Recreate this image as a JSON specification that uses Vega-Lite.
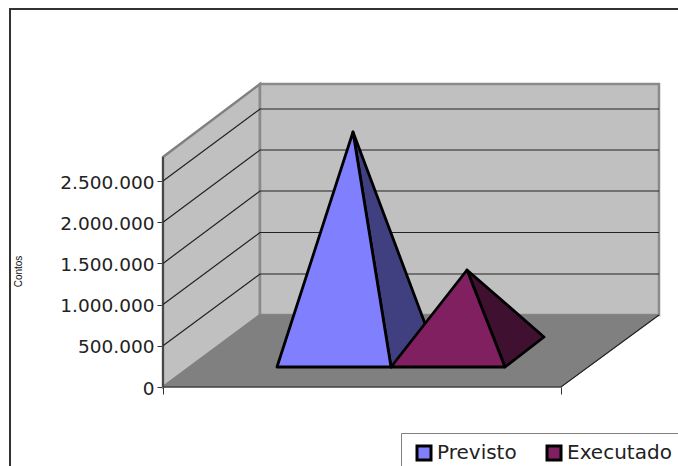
{
  "$schema": "https://vega.github.io/schema/vega-lite/v6.json",
  "width": 678,
  "height": 466,
  "padding": 0,
  "autosize": {"type": "none"},
  "background": "white",
  "view": {"stroke": null},
  "config": {"font": "DejaVu Sans"},
  "data": {
    "values": [
      {"tipo": "moldura", "forma": "moldura", "ordem": 1, "posicao": -38.44, "contos": -958744},
      {"tipo": "moldura", "forma": "moldura", "ordem": 2, "posicao": -38.44, "contos": 4587408},
      {"tipo": "moldura", "forma": "moldura", "ordem": 3, "posicao": 129.4, "contos": 4587408},

      {"tipo": "paredeEsq", "forma": "paredeEsq", "ordem": 1, "posicao": 0, "contos": 2791280},
      {"tipo": "paredeEsq", "forma": "paredeEsq", "ordem": 2, "posicao": 24.37, "contos": 3677208},
      {"tipo": "paredeEsq", "forma": "paredeEsq", "ordem": 3, "posicao": 24.37, "contos": 873792},
      {"tipo": "paredeEsq", "forma": "paredeEsq", "ordem": 4, "posicao": 0, "contos": 0},

      {"tipo": "paredeFundo", "forma": "paredeFundo", "ordem": 1, "posicao": 24.37, "contos": 3677208},
      {"tipo": "paredeFundo", "forma": "paredeFundo", "ordem": 2, "posicao": 124.62, "contos": 3677208},
      {"tipo": "paredeFundo", "forma": "paredeFundo", "ordem": 3, "posicao": 124.62, "contos": 873792},
      {"tipo": "paredeFundo", "forma": "paredeFundo", "ordem": 4, "posicao": 24.37, "contos": 873792},

      {"tipo": "piso", "forma": "piso", "ordem": 1, "posicao": 0, "contos": 0},
      {"tipo": "piso", "forma": "piso", "ordem": 2, "posicao": 24.37, "contos": 873792},
      {"tipo": "piso", "forma": "piso", "ordem": 3, "posicao": 124.62, "contos": 873792},
      {"tipo": "piso", "forma": "piso", "ordem": 4, "posicao": 100, "contos": 0},

      {"tipo": "grade", "forma": "g500", "ordem": 1, "posicao": 0, "contos": 500000},
      {"tipo": "grade", "forma": "g500", "ordem": 2, "posicao": 24.37, "contos": 1371368},
      {"tipo": "grade", "forma": "g500", "ordem": 3, "posicao": 124.62, "contos": 1371368},
      {"tipo": "grade", "forma": "g1000", "ordem": 1, "posicao": 0, "contos": 1000000},
      {"tipo": "grade", "forma": "g1000", "ordem": 2, "posicao": 24.37, "contos": 1875012},
      {"tipo": "grade", "forma": "g1000", "ordem": 3, "posicao": 124.62, "contos": 1875012},
      {"tipo": "grade", "forma": "g1500", "ordem": 1, "posicao": 0, "contos": 1500000},
      {"tipo": "grade", "forma": "g1500", "ordem": 2, "posicao": 24.37, "contos": 2378656},
      {"tipo": "grade", "forma": "g1500", "ordem": 3, "posicao": 124.62, "contos": 2378656},
      {"tipo": "grade", "forma": "g2000", "ordem": 1, "posicao": 0, "contos": 2000000},
      {"tipo": "grade", "forma": "g2000", "ordem": 2, "posicao": 24.37, "contos": 2876232},
      {"tipo": "grade", "forma": "g2000", "ordem": 3, "posicao": 124.62, "contos": 2876232},
      {"tipo": "grade", "forma": "g2500", "ordem": 1, "posicao": 0, "contos": 2500000},
      {"tipo": "grade", "forma": "g2500", "ordem": 2, "posicao": 24.37, "contos": 3373808},
      {"tipo": "grade", "forma": "g2500", "ordem": 3, "posicao": 124.62, "contos": 3373808},

      {"tipo": "eixo", "forma": "eixoY", "ordem": 1, "posicao": 0, "contos": 2791280},
      {"tipo": "eixo", "forma": "eixoY", "ordem": 2, "posicao": 0, "contos": 0},
      {"tipo": "eixo", "forma": "eixoX", "ordem": 1, "posicao": 0, "contos": 0},
      {"tipo": "eixo", "forma": "eixoX", "ordem": 2, "posicao": 100, "contos": 0},
      {"tipo": "eixo", "forma": "eixoX", "ordem": 3, "posicao": 124.62, "contos": 873792},

      {"tipo": "ladoPrevisto", "forma": "Previsto", "ordem": 1, "posicao": 57.29, "contos": 242720},
      {"tipo": "ladoPrevisto", "forma": "Previsto", "ordem": 2, "posicao": 47.74, "contos": 3094680},
      {"tipo": "ladoPrevisto", "forma": "Previsto", "ordem": 3, "posicao": 67.09, "contos": 606800},

      {"tipo": "ladoExecutado", "forma": "Executado", "ordem": 1, "posicao": 85.93, "contos": 242720},
      {"tipo": "ladoExecutado", "forma": "Executado", "ordem": 2, "posicao": 76.38, "contos": 1419912},
      {"tipo": "ladoExecutado", "forma": "Executado", "ordem": 3, "posicao": 95.73, "contos": 606800},

      {"tipo": "frente", "forma": "Previsto", "ordem": 1, "posicao": 28.64, "contos": 242720},
      {"tipo": "frente", "forma": "Previsto", "ordem": 2, "posicao": 47.74, "contos": 3094680},
      {"tipo": "frente", "forma": "Previsto", "ordem": 3, "posicao": 57.29, "contos": 242720},
      {"tipo": "frente", "forma": "Executado", "ordem": 1, "posicao": 57.29, "contos": 242720},
      {"tipo": "frente", "forma": "Executado", "ordem": 2, "posicao": 76.38, "contos": 1419912},
      {"tipo": "frente", "forma": "Executado", "ordem": 3, "posicao": 85.93, "contos": 242720}
    ]
  },
  "encoding": {
    "x": {
      "field": "posicao",
      "type": "quantitative",
      "scale": {"domain": [-40.955, 129.397], "nice": false, "zero": false},
      "axis": {
        "title": null,
        "values": [0, 100],
        "labels": false,
        "grid": false,
        "domain": false,
        "ticks": true,
        "tickSize": 7,
        "tickColor": "#333333",
        "tickWidth": 1,
        "offset": -79
      }
    },
    "y": {
      "field": "contos",
      "type": "quantitative",
      "scale": {"domain": [-958744, 4696632], "nice": false, "zero": false},
      "axis": {
        "title": "Contos",
        "titleFont": "Liberation Sans",
        "titleFontSize": 10,
        "titleFontWeight": "normal",
        "titleColor": "#111111",
        "titleX": -140,
        "titleY": 271,
        "values": [0, 500000, 1000000, 1500000, 2000000, 2500000],
        "labelExpr": "replace(format(datum.value, ','), /,/g, '.')",
        "labelFontSize": 18.5,
        "labelColor": "#222222",
        "labelPadding": 3,
        "labelOffset": 1,
        "grid": false,
        "domain": false,
        "tickSize": 6,
        "tickColor": "#333333",
        "tickWidth": 1,
        "offset": -163
      }
    },
    "order": {"field": "ordem", "type": "quantitative"}
  },
  "layer": [
    {
      "transform": [{"filter": "datum.tipo === 'paredeEsq'"}],
      "mark": {"type": "line", "interpolate": "linear-closed", "fill": "#c0c0c0", "stroke": "#808080", "strokeWidth": 2.5}
    },
    {
      "transform": [{"filter": "datum.tipo === 'paredeFundo'"}],
      "mark": {"type": "line", "interpolate": "linear-closed", "fill": "#c0c0c0", "stroke": "#8a8a8a", "strokeWidth": 2.5}
    },
    {
      "transform": [{"filter": "datum.tipo === 'piso'"}],
      "mark": {"type": "line", "interpolate": "linear-closed", "fill": "#808080", "stroke": "#808080", "strokeWidth": 1}
    },
    {
      "transform": [{"filter": "datum.tipo === 'grade'"}],
      "mark": {"type": "line", "stroke": "#222222", "strokeWidth": 1.2},
      "encoding": {"detail": {"field": "forma"}}
    },
    {
      "transform": [{"filter": "datum.tipo === 'eixo'"}],
      "mark": {"type": "line", "stroke": "#222222", "strokeWidth": 1.2},
      "encoding": {"detail": {"field": "forma"}}
    },
    {
      "transform": [{"filter": "datum.tipo === 'moldura'"}],
      "mark": {"type": "line", "stroke": "#333333", "strokeWidth": 2}
    },
    {
      "transform": [{"filter": "datum.tipo === 'ladoPrevisto'"}],
      "mark": {"type": "line", "interpolate": "linear-closed", "fill": "#404080", "stroke": "#000000", "strokeWidth": 2.8, "strokeJoin": "round"}
    },
    {
      "transform": [{"filter": "datum.tipo === 'ladoExecutado'"}],
      "mark": {"type": "line", "interpolate": "linear-closed", "fill": "#401030", "stroke": "#000000", "strokeWidth": 2.8, "strokeJoin": "round"}
    },
    {
      "transform": [{"filter": "datum.tipo === 'frente'"}],
      "mark": {"type": "line", "interpolate": "linear-closed", "stroke": "#000000", "strokeWidth": 2.8, "strokeJoin": "round"},
      "encoding": {
        "fill": {
          "field": "forma",
          "type": "nominal",
          "scale": {"domain": ["Previsto", "Executado"], "range": ["#8080ff", "#802060"]},
          "legend": {
            "title": null,
            "orient": "none",
            "direction": "horizontal",
            "columns": 2,
            "legendX": 401,
            "legendY": 433,
            "padding": 10,
            "strokeColor": "#808080",
            "fillColor": "white",
            "symbolType": "square",
            "symbolSize": 196,
            "symbolStrokeColor": "#000000",
            "symbolStrokeWidth": 3,
            "symbolOffset": 3,
            "labelFontSize": 20,
            "labelColor": "#222222",
            "labelOffset": 3,
            "columnPadding": 24
          }
        }
      }
    }
  ]
}
